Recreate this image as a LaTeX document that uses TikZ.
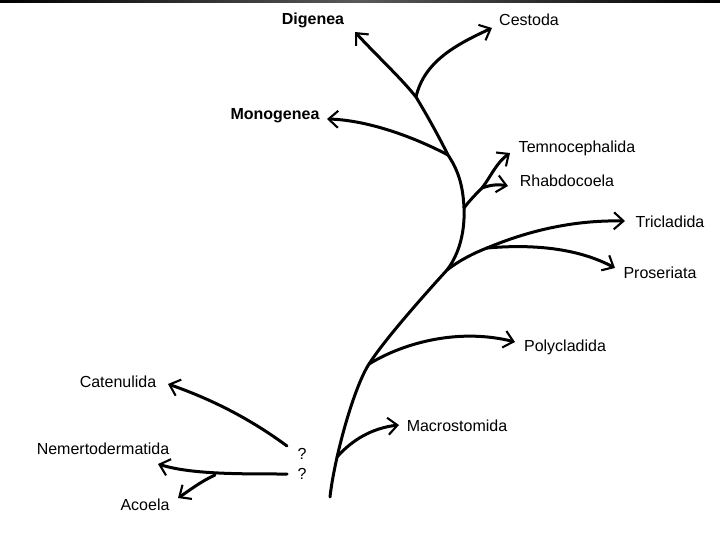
\documentclass[tikz,border=0pt]{standalone}
\usepackage{fontspec}
\setmainfont{Liberation Sans}
\usetikzlibrary{arrows.meta}

\begin{document}
\begin{tikzpicture}[x=1pt,y=-1pt,
  branch/.style={line width=3pt,line cap=round,
    -{Straight Barb[length=9.5pt,width=17pt,line width=2.1pt]}},
  stem/.style={line width=3pt,line cap=round},
  taxon/.style={font=\fontsize{16}{18}\selectfont,inner sep=0pt}]
\useasboundingbox (0,0) rectangle (720,540);
\shade[left color=black,right color=black,middle color=black!65]
      (0,0) rectangle (720,2.5);

% branch points
\coordinate (root) at (330,497);
\coordinate (mac)  at (337,457);
\coordinate (poly) at (369,364);
\coordinate (tri)  at (447,270);
\coordinate (tripro) at (487,248);
\coordinate (rha)  at (464,208);
\coordinate (temrha) at (482,188);
\coordinate (mono) at (448,155);
\coordinate (ces)  at (416,97);
\coordinate (cat)  at (287,446);
\coordinate (nem)  at (287,474);
\coordinate (aco)  at (215,475);

% arrow tips
\coordinate (digT)  at (355,32);
\coordinate (cesT)  at (492,28);
\coordinate (monoT) at (327,119);
\coordinate (temT)  at (510,153);
\coordinate (rhaT)  at (508,186);
\coordinate (triT)  at (625,221);
\coordinate (proT)  at (615,268);
\coordinate (polyT) at (515,342);
\coordinate (macT)  at (399,425);
\coordinate (catT)  at (168,384);
\coordinate (nemT)  at (158,464);
\coordinate (acoT)  at (178,498);

% labels
\node[taxon,font=\fontsize{16}{18}\selectfont\bfseries] (digenea) at (313,20) {Digenea};
\node[taxon] (cestoda) at (529,20) {Cestoda};
\node[taxon,font=\fontsize{16}{18}\selectfont\bfseries] (monogenea) at (275,116) {Monogenea};
\node[taxon] (temno) at (577,148) {Temnocephalida};
\node[taxon] (rhabdo) at (567,181) {Rhabdocoela};
\node[taxon] (tricla) at (670,222) {Tricladida};
\node[taxon] (proser) at (660,273) {Proseriata};
\node[taxon] (polycla) at (565,347) {Polycladida};
\node[taxon] (macro) at (457,426) {Macrostomida};
\node[taxon] (catenu) at (118,382) {Catenulida};
\node[taxon] (nemerto) at (103,449) {Nemertodermatida};
\node[taxon] (acoela) at (145,505) {Acoela};
\node[taxon] (q1) at (302,454) {?};
\node[taxon] (q2) at (302,474) {?};

% main trunk
\draw[branch] (root) .. controls (334,460) and (353,389) .. (poly)
  .. controls (385,339) and (426,293) .. (tri)
  .. controls (460,253) and (465,230) .. (rha)
  .. controls (463,185) and (458,170) .. (mono)
  .. controls (438,135) and (428,117) .. (ces)
  .. controls (401,78) and (376,55) .. (digT);

% side branches
\draw[branch] (ces) .. controls (424,62) and (455,45) .. (cesT);
\draw[branch] (mono) .. controls (410,135) and (365,120) .. (monoT);
\draw[stem] (rha) .. controls (470,200) and (476,194) .. (temrha);
\draw[branch] (temrha) .. controls (490,178) and (496,163) .. (temT);
\draw[branch] (temrha) .. controls (490,185) and (498,184) .. (rhaT);
\draw[stem] (tri) .. controls (460,260) and (474,253) .. (tripro);
\draw[branch] (tripro) .. controls (530,230) and (575,220) .. (triT);
\draw[branch] (tripro) .. controls (545,243) and (585,252) .. (proT);
\draw[branch] (poly) .. controls (405,342) and (460,328) .. (polyT);
\draw[branch] (mac) .. controls (352,440) and (372,428) .. (macT);

% basal groups
\draw[branch] (cat) .. controls (245,415) and (205,397) .. (catT);
\draw[branch] (nem) .. controls (235,474) and (190,474) .. (nemT);
\draw[branch] (aco) .. controls (200,482) and (190,490) .. (acoT);
\end{tikzpicture}
\end{document}
